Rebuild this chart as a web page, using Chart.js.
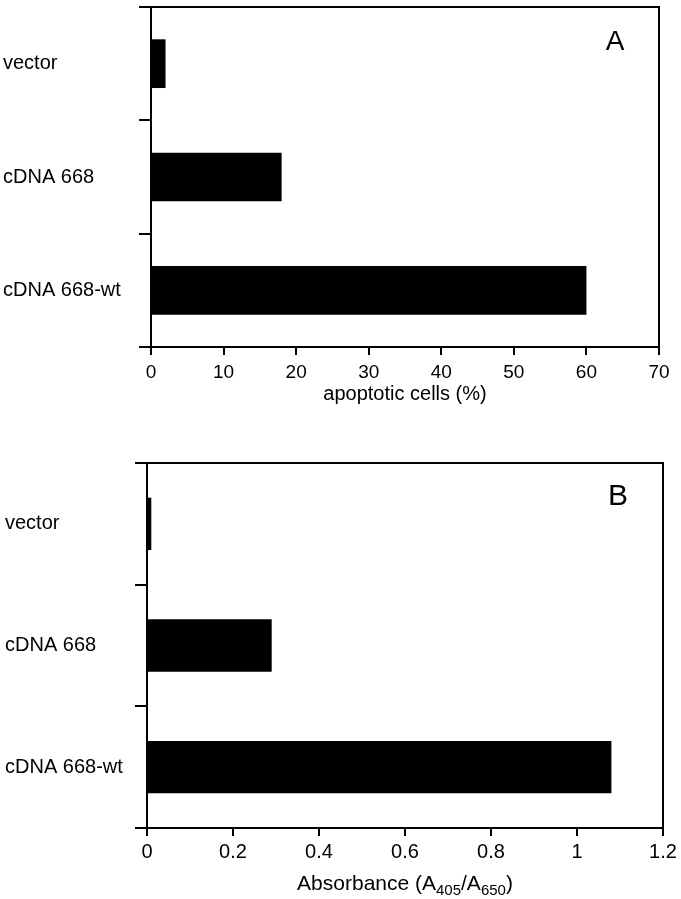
<!DOCTYPE html>
<html>
<head>
<meta charset="utf-8">
<script src="https://cdn.jsdelivr.net/npm/chart.js@4/dist/chart.umd.min.js"></script>
<style>
  body { margin: 0; background: #fff; width: 681px; height: 899px; overflow: hidden; position: relative; }
  canvas { position: absolute; left: 0; }
  #chartA { top: -10px; }
  #chartB { top: 420px; }
</style>
</head>
<body>
<canvas id="chartA" width="681" height="430"></canvas>
<canvas id="chartB" width="681" height="479"></canvas>
<script>
var categories = ['vector', 'cDNA 668', 'cDNA 668-wt'];
var apoptoticCells = [2, 18, 60];          // panel A, %
var absorbance = [0.01, 0.29, 1.08];       // panel B, A405/A650
var ticksA = [0, 10, 20, 30, 40, 50, 60, 70];
var ticksB = [0, 0.2, 0.4, 0.6, 0.8, 1, 1.2];
var tickLabelsB = ['0', '0.2', '0.4', '0.6', '0.8', '1', '1.2'];
var titleA = 'apoptotic cells (%)';
// B axis title, with subscripts
var titleBParts = [
  { text: 'Absorbance (A', sub: false },
  { text: '405', sub: true },
  { text: '/A', sub: false },
  { text: '650', sub: true },
  { text: ')', sub: false }
];

var FONT = '"Liberation Sans", Arial, Helvetica, sans-serif';
Chart.defaults.font.family = FONT;
Chart.defaults.color = '#000';

// box round the plot area + panel letter + optional subscript title
var framePlugin = {
  id: 'frame',
  afterDraw: function (chart, args, opts) {
    var a = chart.chartArea, ctx = chart.ctx;
    ctx.save();
    ctx.strokeStyle = '#000';
    ctx.lineWidth = 2;
    ctx.strokeRect(a.left, a.top, a.right - a.left, a.bottom - a.top);
    ctx.fillStyle = '#000';
    ctx.font = opts.letterSize + 'px ' + FONT;
    ctx.textAlign = 'center';
    ctx.textBaseline = 'middle';
    ctx.fillText(opts.letter, a.right - opts.letterDx, a.top + opts.letterDy);

    if (opts.parts) {
      var big = opts.titleSize + 'px ' + FONT, small = Math.round(opts.titleSize * 0.72) + 'px ' + FONT;
      ctx.textAlign = 'left';
      ctx.textBaseline = 'alphabetic';
      var total = 0;
      opts.parts.forEach(function (p) {
        ctx.font = p.sub ? small : big;
        total += ctx.measureText(p.text).width;
      });
      var x = (a.left + a.right) / 2 - total / 2;
      var y = a.bottom + opts.titleDy;
      opts.parts.forEach(function (p) {
        ctx.font = p.sub ? small : big;
        ctx.fillText(p.text, x, y + (p.sub ? 5 : 0));
        x += ctx.measureText(p.text).width;
      });
    }
    ctx.restore();
  }
};

function makeChart(id, values, ticks, labels, o) {
  return new Chart(document.getElementById(id), {
    type: 'bar',
    data: {
      labels: categories,
      datasets: [{
        data: values,
        backgroundColor: '#000',
        borderWidth: 0,
        barPercentage: 0.43,
        categoryPercentage: 1
      }]
    },
    options: {
      indexAxis: 'y',
      responsive: false,
      animation: false,
      devicePixelRatio: 1,
      layout: { padding: o.padding },
      plugins: {
        legend: { display: false },
        tooltip: { enabled: false },
        frame: o.frame
      },
      scales: {
        x: {
          min: ticks[0],
          max: ticks[ticks.length - 1],
          afterBuildTicks: function (s) {
            s.ticks = ticks.map(function (v) { return { value: v }; });
          },
          afterFit: function (s) { s.height = o.xHeight; },
          border: { display: true, color: '#000', width: 2 },
          grid: { drawOnChartArea: false, drawTicks: true, tickLength: 8, color: '#000', lineWidth: 2 },
          ticks: {
            font: { size: o.tickSize },
            color: '#000',
            padding: o.tickPad,
            maxRotation: 0,
            callback: function (v, i) { return labels ? labels[i] : String(v); }
          },
          title: o.xTitle ? {
            display: true,
            text: o.xTitle,
            color: '#000',
            font: { size: o.titleSize },
            padding: { top: 0, bottom: 0 }
          } : { display: false }
        },
        y: {
          afterFit: function (s) { s.width = o.yWidth; },
          border: { display: true, color: '#000', width: 2 },
          grid: { drawOnChartArea: false, drawTicks: true, tickLength: 12, color: '#000', lineWidth: 2, offset: true },
          ticks: {
            font: { size: o.catSize },
            color: '#000',
            crossAlign: 'far',
            padding: 4
          }
        }
      }
    },
    plugins: [framePlugin]
  });
}

makeChart('chartA', apoptoticCells, ticksA, null, {
  padding: { left: 3, right: 22, top: 17, bottom: 14 },
  xHeight: 59,
  yWidth: 148,
  tickSize: 19,
  catSize: 20,
  titleSize: 20,
  tickPad: 6,
  xTitle: titleA,
  frame: { letter: 'A', letterSize: 28, letterDx: 44, letterDy: 35 }
});

makeChart('chartB', absorbance, ticksB, tickLabelsB, {
  padding: { left: 5, right: 18, top: 43, bottom: 5 },
  xHeight: 66,
  yWidth: 142,
  tickSize: 20,
  catSize: 20,
  titleSize: 21,
  tickPad: 4,
  xTitle: null,
  frame: { letter: 'B', letterSize: 30, letterDx: 45, letterDy: 34, parts: titleBParts, titleSize: 21, titleDy: 62 }
});
</script>
</body>
</html>
